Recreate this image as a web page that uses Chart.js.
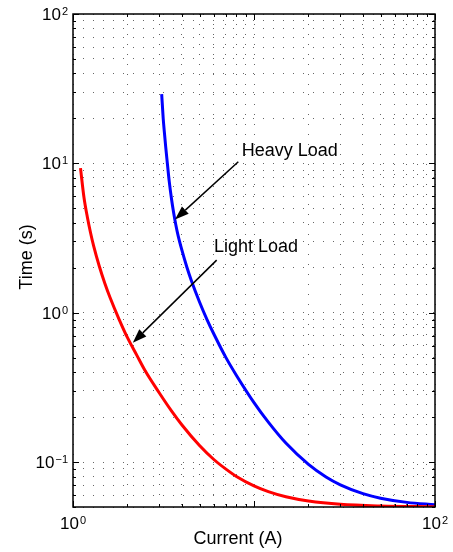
<!DOCTYPE html>
<html lang="en">
<head>
  <meta charset="UTF-8"/>
  <title>Time-Current Curves</title>
  <script src="https://cdn.jsdelivr.net/npm/chart.js"></script>
  <style>
    html, body { margin: 0; padding: 0; background: #fff; }
    #wrap { width: 453px; height: 552px; }
  </style>
</head>
<body>
  <div id="wrap"><canvas id="tcc"></canvas></div>

  <script>
    // trip curves, current in A and time in s
    const lightCurrent = [1.10, 1.15, 1.20, 1.25, 1.30, 1.40, 1.50, 1.60, 1.80, 2.00, 2.25, 2.50, 3.00, 3.50, 4.00, 5.00, 6.00, 7.00, 8.00, 10, 12, 15, 20, 30, 50, 100]
    const lightTime    = [9.3, 5.9, 4.37, 3.43, 2.80, 2.03, 1.57, 1.27, 0.90, 0.68, 0.52, 0.41, 0.29, 0.22, 0.177, 0.129, 0.104, 0.0896, 0.080, 0.0692, 0.0633, 0.0585, 0.0548, 0.0521, 0.0508, 0.0502]
    const heavyCurrent = [3.09, 3.15, 3.20, 3.25, 3.30, 3.40, 3.50, 3.60, 3.70, 3.80, 4.00, 4.25, 4.50, 5.00, 5.50, 6.00, 7.00, 8.00, 10, 12, 15, 20, 25, 30, 40, 50, 70, 100]
    const heavyTime    = [29.1, 20, 16, 13, 10.8, 7.6, 5.8, 4.65, 3.87, 3.32, 2.61, 2.03, 1.65, 1.18, 0.90, 0.72, 0.50, 0.38, 0.25, 0.185, 0.134, 0.0965, 0.0795, 0.0704, 0.0614, 0.0573, 0.0537, 0.0518]

    const xRange = [1, 100]
    const yRange = [0.05, 100]
    const xLabelled = [1, 100]
    const yLabelled = [0.1, 1, 10, 100]

    // callouts: text anchor, arrow tail, arrow tip (data coords)
    const notes = [
      { text: 'Heavy Load', at: [8.55, 11.2], from: [8.19, 10.25], to: [3.66, 4.2] },
      { text: 'Light Load', at: [6.01, 2.55], from: [6.22, 2.25], to: [2.14, 0.63] }
    ]

    const FONT = '"Liberation Sans", Arial, Helvetica, sans-serif'

    // 1..9 x 10^k between lo and hi
    function logTicks(lo, hi) {
      const out = []
      for (let e = Math.floor(Math.log10(lo)); e <= Math.ceil(Math.log10(hi)); e++) {
        for (let m = 1; m <= 9; m++) {
          const v = +(m * Math.pow(10, e)).toPrecision(6)
          if (v >= lo * 0.9999 && v <= hi * 1.0001) out.push(v)
        }
      }
      return out
    }
    const xTicks = logTicks(xRange[0], xRange[1])
    const yTicks = logTicks(yRange[0], yRange[1])
    const isDecade = v => Math.abs(Math.log10(v) - Math.round(Math.log10(v))) < 1e-9

    function drawPower(ctx, v, x, baseline, align) {
      const exp = Math.round(Math.log10(v))
      const sup = exp < 0 ? '\u2212' + (-exp) : String(exp)
      ctx.font = '17px ' + FONT
      const bw = ctx.measureText('10').width
      ctx.font = '11px ' + FONT
      const sw = ctx.measureText(sup).width
      const total = bw + 1 + sw
      const left = align === 'right' ? x - total : x - total / 2
      ctx.textAlign = 'left'
      ctx.textBaseline = 'alphabetic'
      ctx.font = '17px ' + FONT
      ctx.fillText('10', left, baseline)
      ctx.font = '11px ' + FONT
      ctx.fillText(sup, left + bw + 1, baseline - 5)
    }

    function arrow(ctx, x0, y0, x1, y1) {
      const ang = Math.atan2(y1 - y0, x1 - x0)
      const len = 14, half = 5
      const bx = x1 - len * Math.cos(ang), by = y1 - len * Math.sin(ang)
      ctx.beginPath()
      ctx.moveTo(x0, y0)
      ctx.lineTo(bx, by)
      ctx.stroke()
      ctx.beginPath()
      ctx.moveTo(x1, y1)
      ctx.lineTo(bx + half * Math.sin(ang), by - half * Math.cos(ang))
      ctx.lineTo(bx - half * Math.sin(ang), by + half * Math.cos(ang))
      ctx.closePath()
      ctx.fill()
    }

    const frame = {
      id: 'frame',
      afterDraw(chart) {
        const { ctx, chartArea: a, scales: { x, y } } = chart
        ctx.save()
        ctx.strokeStyle = '#000'
        ctx.fillStyle = '#000'

        // inward ticks on all four sides
        ctx.lineWidth = 1
        ctx.beginPath()
        xTicks.forEach(v => {
          const px = Math.round(x.getPixelForValue(v)) + 0.5
          const len = isDecade(v) ? 6 : 3
          ctx.moveTo(px, a.bottom); ctx.lineTo(px, a.bottom - len)
          ctx.moveTo(px, a.top); ctx.lineTo(px, a.top + len)
        })
        yTicks.forEach(v => {
          const py = Math.round(y.getPixelForValue(v)) + 0.5
          const len = isDecade(v) ? 6 : 3
          ctx.moveTo(a.left, py); ctx.lineTo(a.left + len, py)
          ctx.moveTo(a.right, py); ctx.lineTo(a.right - len, py)
        })
        ctx.stroke()

        // axes box
        ctx.lineWidth = 1.5
        ctx.strokeRect(a.left, a.top, a.right - a.left, a.bottom - a.top)

        // tick labels
        xLabelled.forEach(v => drawPower(ctx, v, x.getPixelForValue(v), a.bottom + 22, 'center'))
        yLabelled.forEach(v => drawPower(ctx, v, a.left - 5, y.getPixelForValue(v) + 6, 'right'))

        // axis titles
        ctx.font = '18px ' + FONT
        ctx.textAlign = 'center'
        ctx.textBaseline = 'alphabetic'
        ctx.fillText('Current (A)', 238, 544)
        ctx.save()
        ctx.translate(27, 257)
        ctx.rotate(-Math.PI / 2)
        ctx.textBaseline = 'middle'
        ctx.fillText('Time (s)', 0, 0)
        ctx.restore()

        // callouts
        ctx.lineWidth = 1.5
        notes.forEach(n => {
          arrow(ctx,
            x.getPixelForValue(n.from[0]), y.getPixelForValue(n.from[1]),
            x.getPixelForValue(n.to[0]), y.getPixelForValue(n.to[1]))
          ctx.font = '18px ' + FONT
          ctx.textAlign = 'left'
          ctx.textBaseline = 'alphabetic'
          ctx.fillText(n.text, x.getPixelForValue(n.at[0]), y.getPixelForValue(n.at[1]))
        })
        ctx.restore()
      }
    }

    const gridOpts = { color: '#666', lineWidth: 1, drawTicks: false }
    const borderOpts = { display: false, dash: [1, 9] }

    new Chart(document.getElementById('tcc'), {
      type: 'line',
      data: {
        datasets: [
          {
            label: 'Light Load',
            data: lightCurrent.map((c, i) => ({ x: c, y: lightTime[i] })),
            borderColor: '#ff0000',
            borderWidth: 3,
            pointRadius: 0,
            cubicInterpolationMode: 'monotone',
            fill: false
          },
          {
            label: 'Heavy Load',
            data: heavyCurrent.map((c, i) => ({ x: c, y: heavyTime[i] })),
            borderColor: '#0000ff',
            borderWidth: 3,
            pointRadius: 0,
            cubicInterpolationMode: 'monotone',
            fill: false
          }
        ]
      },
      options: {
        responsive: true,
        maintainAspectRatio: false,
        animation: false,
        layout: { padding: { top: 14, right: 18, left: 0, bottom: 0 } },
        plugins: { legend: { display: false }, tooltip: { enabled: false } },
        scales: {
          x: {
            type: 'logarithmic',
            min: xRange[0],
            max: xRange[1],
            afterBuildTicks: s => { s.ticks = xTicks.map(v => ({ value: v })) },
            afterFit: s => { s.height = 45 },
            ticks: { display: false },
            grid: gridOpts,
            border: borderOpts
          },
          y: {
            type: 'logarithmic',
            min: yRange[0],
            max: yRange[1],
            afterBuildTicks: s => { s.ticks = yTicks.map(v => ({ value: v })) },
            afterFit: s => { s.width = 73 },
            ticks: { display: false },
            grid: gridOpts,
            border: borderOpts
          }
        }
      },
      plugins: [frame]
    })
  </script>
</body>
</html>
